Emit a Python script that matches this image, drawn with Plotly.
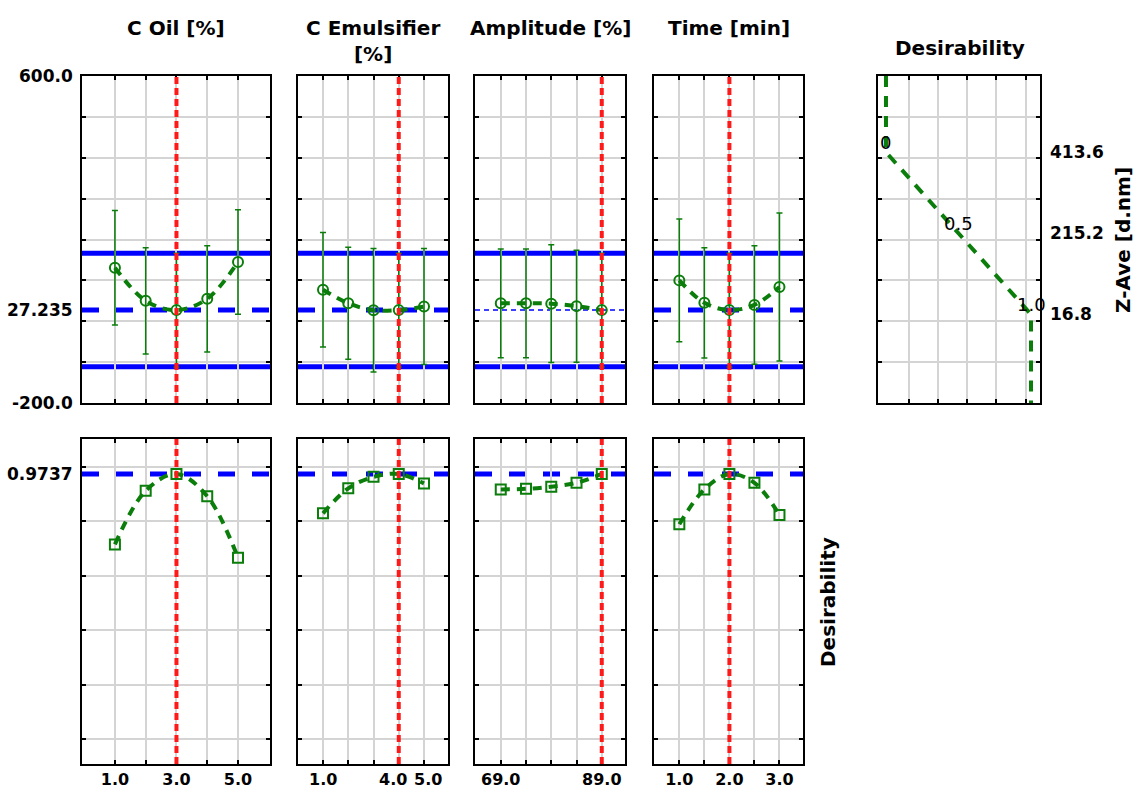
import plotly.graph_objects as go

# ---------------- data ----------------
c_oil_levels = [1.0, 2.0, 3.0, 4.0, 5.0]
c_oil_zave = [131.0, 50.0, 27.235, 55.0, 145.0]
c_oil_zave_err = [140.0, 130.0, 139.0, 130.0, 128.0]
c_oil_desir = [0.715, 0.912, 0.9737, 0.892, 0.666]
c_oil_ticks = ["1.0", "", "3.0", "", "5.0"]

c_emul_levels = [1.0, 2.0, 3.0, 4.0, 5.0]
c_emul_zave = [77.0, 44.0, 27.0, 27.235, 36.0]
c_emul_zave_err = [140.0, 137.0, 151.0, 139.0, 142.0]
c_emul_desir = [0.829, 0.921, 0.963, 0.9737, 0.939]
c_emul_ticks = ["1.0", "", "", "4.0", "5.0"]

amp_levels = [69.0, 74.0, 79.0, 84.0, 89.0]
amp_zave = [44.0, 44.0, 43.0, 37.0, 27.235]
amp_zave_err = [133.0, 133.0, 144.0, 137.0, 139.0]
amp_desir = [0.917, 0.919, 0.927, 0.941, 0.9737]
amp_ticks = ["69.0", "", "", "", "89.0"]

time_levels = [1.0, 1.5, 2.0, 2.5, 3.0]
time_zave = [100.0, 45.0, 27.235, 40.0, 84.0]
time_zave_err = [150.0, 135.0, 139.0, 145.0, 181.0]
time_desir = [0.789, 0.917, 0.9737, 0.941, 0.823]
time_ticks = ["1.0", "", "2.0", "", "3.0"]

factor_titles = ["C Oil [%]", "C Emulsifier<br>[%]", "Amplitude [%]", "Time [min]"]
current_levels = [3.0, 4.0, 89.0, 2.0]

zave_pred = 27.235
zave_ci_low = -111.5
zave_ci_high = 166.5
desir_opt = 0.9737

zave_axis_vals = [600.0, 27.235, -200.0]
zave_axis_text = ["600.0", "27.235", "-200.0"]
desir_axis_vals = [0.9737]
desir_axis_text = ["0.9737"]

# desirability function of Z-Ave
dfun_zave = [600.0, 413.6, 215.2, 16.8, -200.0]
dfun_d = [0.0, 0.0, 0.5, 1.0, 1.0]
dfun_label_zave = [413.6, 215.2, 16.8]
dfun_label_d = [0.0, 0.5, 1.0]
dfun_label_text = ["0", "0.5", "1.0"]

# ---------------- styling ----------------
W, H = 1139, 797
GREEN = "#0a7d0a"
BLUE = "#0000ff"
RED = "#ff1a1a"
GRID = "#d4d4d4"
FONT = "DejaVu Sans"

panel_x_px = [(82, 270), (298, 448), (475, 625), (654, 803), (878, 1040)]
top_y_px = (76, 403)
bot_y_px = (439, 764)
x_ranges = [(-0.07, 6.04), (0.01, 5.95), (63.9, 93.6), (0.494, 3.47)]
top_range = (-200, 600)
bot_range = (-0.091, 1.102)
# small horizontal nudges (px) for crowded tick labels (panel 2 only)
label_nudge = [None, [0, 0, 0, -6, 4], None, None]


def sfx(n):
    return "" if n == 1 else str(n)


def xdom(p):
    return [p[0] / W, p[1] / W]


def ydom(p):
    return [1 - p[1] / H, 1 - p[0] / H]


factors = [
    (c_oil_levels, c_oil_zave, c_oil_zave_err, c_oil_desir, c_oil_ticks),
    (c_emul_levels, c_emul_zave, c_emul_zave_err, c_emul_desir, c_emul_ticks),
    (amp_levels, amp_zave, amp_zave_err, amp_desir, amp_ticks),
    (time_levels, time_zave, time_zave_err, time_desir, time_ticks),
]

fig = go.Figure()
shapes = []
annotations = []
layout = {}

bold16 = dict(family=FONT, size=16, color="black", weight="bold")
bold17 = dict(family=FONT, size=17, color="black", weight="bold")
bold20 = dict(family=FONT, size=20, color="black", weight="bold")

axis_common = dict(
    showline=True, linecolor="black", linewidth=2, mirror="ticks",
    ticks="inside", ticklen=4, tickwidth=1.5, tickcolor="black",
    showgrid=True, gridcolor=GRID, gridwidth=1.5, zeroline=False,
    fixedrange=True, layer="below traces",
)

for i, (lv, zave, zerr, des, tks) in enumerate(factors):
    top = sfx(i + 1)
    bot = sfx(i + 6)
    # top row: Z-Ave profile
    fig.add_trace(go.Scatter(
        x=lv, y=zave, xaxis=f"x{top}", yaxis=f"y{top}", mode="lines+markers",
        line=dict(color=GREEN, width=4, dash="9px,7px", shape="spline"),
        marker=dict(symbol="circle-open", size=10, color=GREEN, line=dict(width=2, color=GREEN)),
        error_y=dict(type="data", array=zerr, visible=True, color=GREEN, thickness=1.5, width=3),
        showlegend=False, hoverinfo="x+y",
    ))
    # bottom row: desirability profile
    fig.add_trace(go.Scatter(
        x=lv, y=des, xaxis=f"x{bot}", yaxis=f"y{bot}", mode="lines+markers",
        line=dict(color=GREEN, width=4, dash="9px,7px", shape="spline"),
        marker=dict(symbol="square-open", size=10, color=GREEN, line=dict(width=2, color=GREEN)),
        showlegend=False, hoverinfo="x+y",
    ))

    xr = x_ranges[i]
    nudge = label_nudge[i]
    layout[f"xaxis{top}"] = dict(axis_common, domain=xdom(panel_x_px[i]), range=list(xr),
                                 anchor=f"y{top}", tickvals=lv, showticklabels=False)
    layout[f"yaxis{top}"] = dict(axis_common, domain=ydom(top_y_px), range=list(top_range),
                                 anchor=f"x{top}", tickvals=list(range(-200, 601, 100)),
                                 showticklabels=False)
    layout[f"xaxis{bot}"] = dict(axis_common, domain=xdom(panel_x_px[i]), range=list(xr),
                                 anchor=f"y{bot}", tickvals=lv,
                                 ticktext=tks if nudge is None else [""] * len(tks),
                                 showticklabels=True, tickangle=0, tickfont=bold16)
    layout[f"yaxis{bot}"] = dict(axis_common, domain=ydom(bot_y_px), range=list(bot_range),
                                 anchor=f"x{bot}", tickvals=[0, 0.2, 0.4, 0.6, 0.8, 1.0],
                                 showticklabels=False)
    if nudge is not None:
        for xv, t, dx in zip(lv, tks, nudge):
            if t:
                annotations.append(dict(x=xv, y=1 - 779 / H, xref=f"x{bot}", yref="paper",
                                        text=t, showarrow=False, xanchor="center",
                                        yanchor="middle", xshift=dx, font=bold16))

    # blue lines, top row
    pred_dash = "5px,4px" if i == 2 else "17px,17px"
    pred_w = 1.5 if i == 2 else 5
    for yv, dash, wdt in [(zave_ci_high, "solid", 5), (zave_ci_low, "solid", 5),
                          (zave_pred, pred_dash, pred_w)]:
        shapes.append(dict(type="line", xref=f"x{top} domain", yref=f"y{top}",
                           x0=0, x1=1, y0=yv, y1=yv, layer="below",
                           line=dict(color=BLUE, width=wdt, dash=dash)))
    # blue dashed, bottom row
    shapes.append(dict(type="line", xref=f"x{bot} domain", yref=f"y{bot}",
                       x0=0, x1=1, y0=desir_opt, y1=desir_opt, layer="below",
                       line=dict(color=BLUE, width=5, dash="17px,17px")))
    # red current-level lines
    for ax in (top, bot):
        shapes.append(dict(type="line", xref=f"x{ax}", yref=f"y{ax} domain",
                           x0=current_levels[i], x1=current_levels[i], y0=0, y1=1,
                           layer="above", line=dict(color=RED, width=4, dash="7px,4px")))

# desirability function panel
fig.add_trace(go.Scatter(
    x=dfun_d, y=dfun_zave, xaxis="x5", yaxis="y5", mode="lines",
    line=dict(color=GREEN, width=4, dash="11px,9px"),
    showlegend=False, hoverinfo="x+y",
))
layout["xaxis5"] = dict(axis_common, domain=xdom(panel_x_px[4]), range=[-0.055, 1.062],
                        anchor="y5", tickvals=[0.16, 0.36, 0.56, 0.76, 0.965],
                        showticklabels=False)
layout["yaxis5"] = dict(axis_common, domain=ydom(top_y_px), range=list(top_range),
                        anchor="x5", tickvals=list(range(-200, 601, 100)),
                        showticklabels=False)

for d, z, t in zip(dfun_label_d, dfun_label_zave, dfun_label_text):
    annotations.append(dict(x=d, y=z, xref="x5", yref="y5", text=t, showarrow=False,
                            xanchor="center", yanchor="middle", yshift=10,
                            font=dict(family=FONT, size=18, color="black")))
for z in dfun_label_zave:
    annotations.append(dict(x=1048 / W, y=z, xref="paper", yref="y5", text=f"{z:.1f}",
                            showarrow=False, xanchor="left", yanchor="middle", font=bold17))

# left tick labels
for v, t in zip(zave_axis_vals, zave_axis_text):
    annotations.append(dict(x=75 / W, y=v, xref="paper", yref="y", text=t, showarrow=False,
                            xanchor="right", yanchor="middle", font=bold17))
for v, t in zip(desir_axis_vals, desir_axis_text):
    annotations.append(dict(x=75 / W, y=v, xref="paper", yref="y6", text=t, showarrow=False,
                            xanchor="right", yanchor="middle", font=bold17))

# column titles
title_cx = [176, 373, 550, 729]
for cx, t in zip(title_cx, factor_titles):
    annotations.append(dict(x=cx / W, y=1 - 14 / H, xref="paper", yref="paper", text=t,
                            showarrow=False, xanchor="center", yanchor="top", font=bold20))
annotations.append(dict(x=960 / W, y=1 - 48 / H, xref="paper", yref="paper", text="Desirability",
                        showarrow=False, xanchor="center", yanchor="middle", font=bold20))
# side labels
annotations.append(dict(x=828 / W, y=1 - 602 / H, xref="paper", yref="paper", text="Desirability",
                        showarrow=False, textangle=-90, xanchor="center", yanchor="middle", font=bold20))
annotations.append(dict(x=1123 / W, y=1 - 240 / H, xref="paper", yref="paper", text="Z-Ave [d.nm]",
                        showarrow=False, textangle=-90, xanchor="center", yanchor="middle", font=bold20))

fig.update_layout(
    width=W, height=H, margin=dict(l=0, r=0, t=0, b=0),
    paper_bgcolor="white", plot_bgcolor="white",
    shapes=shapes, annotations=annotations, showlegend=False,
    font=dict(family=FONT, color="black"),
    **layout,
)

fig.write_html("out.html")
